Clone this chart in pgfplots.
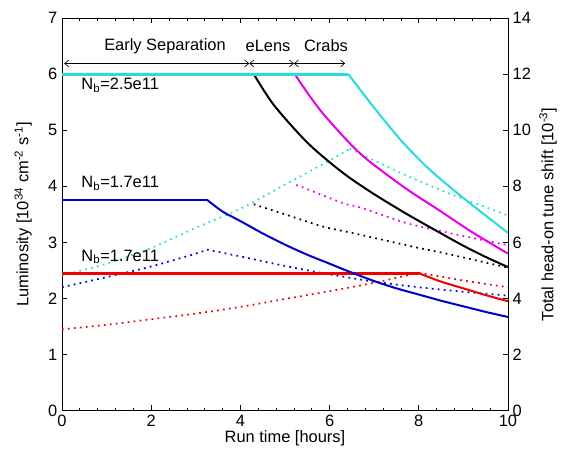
\documentclass[border=0pt]{standalone}
\usepackage{fontspec}
\setmainfont{Liberation Sans}
\usepackage{pgfplots}
\pgfplotsset{compat=1.18}
\usetikzlibrary{arrows.meta}
\definecolor{mcyan}{RGB}{40,220,220}
\definecolor{mmag}{RGB}{230,0,230}
\definecolor{mblue}{RGB}{0,0,205}
\definecolor{mred}{RGB}{240,0,0}
\begin{document}
\begin{tikzpicture}
\pgfplotsset{every axis/.append style={
  scale only axis, width=334pt, height=294pt,
  font=\fontsize{12.3}{14}\selectfont,
  /pgf/number format/assume math mode=true,
  tick align=inside, major tick length=4pt, minor tick length=2pt,
  tick style={black, line width=0.5pt}, axis line style={line width=0.6pt},
  xmin=0, xmax=10},
  dotl/.style={line width=1.3pt, dash pattern=on 1.3pt off 3.2pt, smooth, tension=0.5},
  sol/.style={line width=1.5pt, smooth, tension=0.5}}
\begin{axis}[name=main,
  ymin=0, ymax=7, ytick={0,...,7}, ytick pos=left,
  xtick={0,2,...,10}, minor x tick num=4,
  xlabel={Run time [hours]},
  ylabel={Luminosity [10\textsuperscript{34} cm\textsuperscript{-2} s\textsuperscript{-1}]},
  every axis x label/.style={at={(axis description cs:0.5,0)}, yshift=-21pt, anchor=center},
  every axis y label/.style={at={(axis description cs:0,0.5)}, xshift=-29pt, rotate=90, anchor=center},
  clip=false]
% dotted (tune shift, in left units = value/2)
\addplot[dotl, mred] coordinates {(0,1.45) (1,1.53) (2,1.63) (3,1.73) (4,1.85) (5,1.99) (6,2.13) (7,2.28) (8,2.46)};
\addplot[dotl, mred] coordinates {(8,2.46) (9,2.32) (10,2.2)};
\addplot[dotl, mblue] coordinates {(0,2.2) (1,2.38) (2,2.57) (3,2.8) (3.25,2.87)};
\addplot[dotl, mblue] coordinates {(3.25,2.87) (4,2.75) (5,2.58) (6,2.43) (7,2.3) (8,2.2) (9,2.12) (10,2.05)};
\addplot[dotl, black] coordinates {(4.3,3.68) (5,3.5) (5.86,3.28) (6.5,3.17) (7,3.08) (7.5,2.99) (8,2.9) (8.5,2.82) (9,2.73) (9.5,2.64) (10,2.55)};
\addplot[dotl, mmag] coordinates {(5.25,4.02) (5.4,3.98) (6.3,3.7) (6.7,3.62) (7.7,3.35) (8.5,3.2) (9.2,3.08) (10,2.95)};
\addplot[dotl, mcyan] coordinates {(0,2.41) (1,2.62) (2,2.9) (3,3.26) (4,3.6) (5,4.03) (6,4.46) (6.45,4.67)};
\addplot[dotl, mcyan] coordinates {(6.45,4.67) (7.7,4.2) (8.5,3.93) (9.25,3.7) (10,3.48)};
% solid luminosity
\addplot[line width=2.2pt, mred] coordinates {(0,2.45) (8,2.45)};
\addplot[sol, mred] coordinates {(8,2.45) (8.5,2.3) (9,2.18) (9.5,2.06) (10,1.95)};
\addplot[line width=1.5pt, mblue] coordinates {(0,3.76) (3.25,3.76)};
\addplot[sol, mblue] coordinates {(3.25,3.76) (3.6,3.55) (4,3.38) (4.5,3.16) (5,2.96) (5.5,2.78) (6,2.62) (6.5,2.46) (7,2.31) (7.5,2.18) (8,2.07) (8.5,1.96) (9,1.86) (9.5,1.76) (10,1.67)};
\addplot[sol, black] coordinates {(4.3,6.0) (4.75,5.45) (5.5,4.78) (6.25,4.27) (6.9,3.91) (7.7,3.52) (8.5,3.16) (9,2.94) (9.5,2.74) (10,2.56)};
\addplot[sol, mmag] coordinates {(5.22,6.0) (5.5,5.67) (5.86,5.29) (6.46,4.76) (6.9,4.44) (7.73,3.95) (8.48,3.56) (9.22,3.17) (10,2.8)};
\addplot[line width=2.4pt, mcyan] coordinates {(0,6.0) (6.42,6.0)};
\addplot[sol, mcyan] coordinates {(6.42,6.0) (7,5.4) (7.6,4.82) (8.2,4.33) (8.8,3.92) (9.4,3.54) (10,3.17)};
% annotations
\draw[{Straight Barb[length=3pt,width=5pt]}-{Straight Barb[length=3pt,width=5pt]}, line width=0.5pt] (axis cs:0.05,6.19) -- (axis cs:4.2,6.19);
\draw[{Straight Barb[length=3pt,width=5pt]}-{Straight Barb[length=3pt,width=5pt]}, line width=0.5pt] (axis cs:4.2,6.19) -- (axis cs:5.2,6.19);
\draw[{Straight Barb[length=3pt,width=5pt]}-{Straight Barb[length=3pt,width=5pt]}, line width=0.5pt] (axis cs:5.2,6.19) -- (axis cs:6.35,6.19);
\node at (axis cs:2.31,6.5) {Early Separation};
\node at (axis cs:4.62,6.5) {eLens};
\node at (axis cs:5.92,6.5) {Crabs};
\node[anchor=west] at (axis cs:0.33,5.8) {N\textsubscript{b}=2.5e11};
\node[anchor=west] at (axis cs:0.33,4.05) {N\textsubscript{b}=1.7e11};
\node[anchor=west] at (axis cs:0.33,2.74) {N\textsubscript{b}=1.7e11};
\end{axis}
\begin{axis}[
  axis x line=none, axis y line*=right,
  ymin=0, ymax=14, ytick={0,2,...,14}, ytick pos=right,
  ylabel={Total head-on tune shift [10\textsuperscript{-3}]},
  every axis y label/.style={at={(axis description cs:1,0.5)}, xshift=30pt, rotate=90, anchor=center}]
\end{axis}
\pgfresetboundingbox
\path[use as bounding box] ([xshift=-46.4pt,yshift=-36pt]main.south west) rectangle ([xshift=41.2pt,yshift=13.5pt]main.north east);
\end{tikzpicture}
\end{document}
